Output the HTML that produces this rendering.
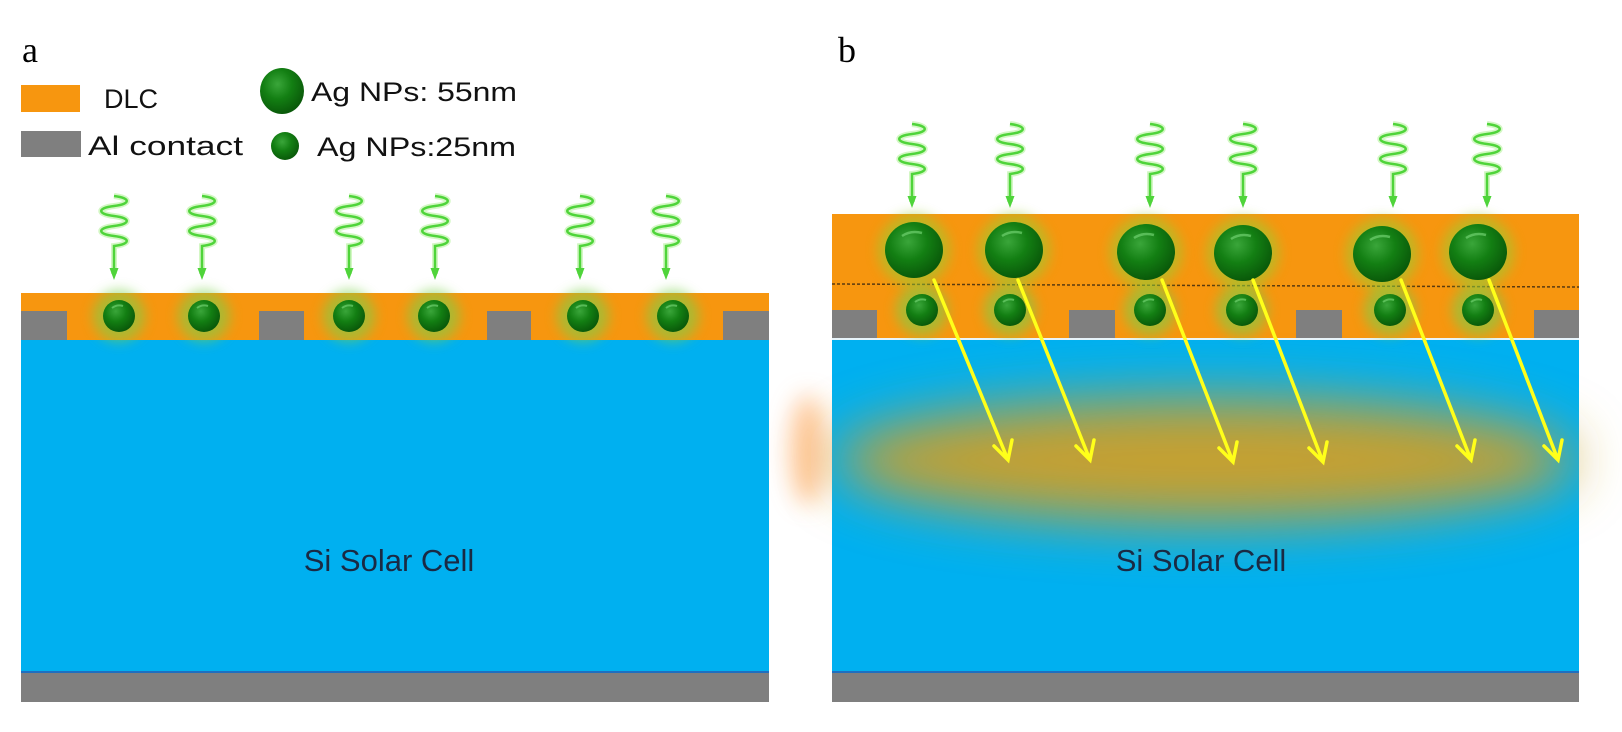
<!DOCTYPE html>
<html><head><meta charset="utf-8"><style>
html,body{margin:0;padding:0;background:#fff}
svg{display:block}
text{font-family:"Liberation Sans",sans-serif}
</style></head><body>
<svg width="1622" height="732" viewBox="0 0 1622 732" xmlns="http://www.w3.org/2000/svg">
<defs>
<radialGradient id="sph" cx="40%" cy="35%" r="65%">
<stop offset="0" stop-color="#3aa63a"/><stop offset="0.5" stop-color="#137f13"/><stop offset="1" stop-color="#0a5a0a"/>
</radialGradient>
<filter id="blur6" x="-1" y="-1" width="3" height="3"><feGaussianBlur stdDeviation="6"/></filter>
<filter id="blur12" x="-1" y="-1" width="3" height="3"><feGaussianBlur stdDeviation="12"/></filter>
<filter id="blur30" x="-1" y="-1" width="3" height="3"><feGaussianBlur stdDeviation="28"/></filter>
<g id="wave">
<path d="M0,0 C17,2 17,8 0,10 C-17,12 -17,18 0,20 C17,22 17,28 0,30 C-17,32 -17,38 0,40 C17,42 17,48 0,50 L0,78" fill="none" stroke="#a8f08a" stroke-width="6" opacity="0.5"/>
<path d="M0,0 C17,2 17,8 0,10 C-17,12 -17,18 0,20 C17,22 17,28 0,30 C-17,32 -17,38 0,40 C17,42 17,48 0,50 L0,78" fill="none" stroke="#4fd43a" stroke-width="2.5"/>
<polygon points="-4.5,72 4.5,72 0,84" fill="#4fd43a"/>
</g>
<g id="ss"><circle r="26" fill="#7ad04a" opacity="0.6" filter="url(#blur6)"/><ellipse rx="16" ry="16" fill="url(#sph)"/><path d="M-7,-8 Q-2,-12 4,-10" stroke="#6fd06f" stroke-width="2" fill="none" opacity="0.7"/></g>
<g id="bs"><circle r="36" fill="#9acd32" opacity="0.6" filter="url(#blur6)"/><ellipse rx="29" ry="28" fill="url(#sph)"/><path d="M-12,-14 Q-3,-20 8,-17" stroke="#6fd06f" stroke-width="2.5" fill="none" opacity="0.7"/></g>
</defs>

<text x="22" y="62" font-size="36" style="font-family:'Liberation Serif',serif">a</text>
<text x="838" y="62" font-size="36" style="font-family:'Liberation Serif',serif">b</text>

<rect x="21" y="85" width="59" height="27" fill="#f7960f"/>
<rect x="21" y="131" width="60" height="26" fill="#7f7f7f"/>
<text x="104" y="108" font-size="27" fill="#111">DLC</text>
<text x="88" y="155" font-size="27" fill="#111" textLength="155" lengthAdjust="spacingAndGlyphs">Al contact</text>
<ellipse cx="282" cy="91" rx="22" ry="23" fill="url(#sph)"/>
<ellipse cx="285" cy="146" rx="14" ry="14" fill="url(#sph)"/>
<text x="311" y="101" font-size="27" fill="#111" textLength="206" lengthAdjust="spacingAndGlyphs">Ag NPs: 55nm</text>
<text x="317" y="156" font-size="27" fill="#111" textLength="199" lengthAdjust="spacingAndGlyphs">Ag NPs:25nm</text>

<!-- Panel a -->
<rect x="21" y="293" width="748" height="47" fill="#f7960f"/>
<g fill="#7f7f7f">
<rect x="21" y="311" width="46" height="29"/><rect x="259" y="311" width="45" height="29"/>
<rect x="487" y="311" width="44" height="29"/><rect x="723" y="311" width="46" height="29"/>
</g>
<rect x="21" y="340" width="748" height="333" fill="#00b0f0"/>
<rect x="21" y="671" width="748" height="2" fill="#1f6fc0"/>
<rect x="21" y="673" width="748" height="29" fill="#7f7f7f"/>
<g>
<use href="#ss" x="119" y="316"/><use href="#ss" x="204" y="316"/><use href="#ss" x="349" y="316"/>
<use href="#ss" x="434" y="316"/><use href="#ss" x="583" y="316"/><use href="#ss" x="673" y="316"/>
</g>
<g>
<use href="#wave" x="114" y="196"/><use href="#wave" x="202" y="196"/><use href="#wave" x="349" y="196"/>
<use href="#wave" x="435" y="196"/><use href="#wave" x="580" y="196"/><use href="#wave" x="666" y="196"/>
</g>
<text x="389" y="571" font-size="31" fill="#1a2a44" text-anchor="middle">Si Solar Cell</text>

<!-- Panel b -->
<ellipse cx="808" cy="450" rx="18" ry="55" fill="#ffb070" opacity="0.7" filter="url(#blur12)"/>
<rect x="832" y="214" width="747" height="126" fill="#f7960f"/>
<line x1="832" y1="284" x2="1579" y2="287" stroke="#5a3a10" stroke-width="1.5" stroke-dasharray="3,2"/>
<g fill="#7f7f7f">
<rect x="832" y="310" width="45" height="29"/><rect x="1069" y="310" width="46" height="29"/>
<rect x="1296" y="310" width="46" height="29"/><rect x="1534" y="310" width="45" height="29"/>
</g>
<rect x="832" y="338" width="747" height="2" fill="#e8f4fa"/>
<rect x="832" y="340" width="747" height="333" fill="#00b0f0"/>
<ellipse cx="1205" cy="460" rx="370" ry="62" fill="#c4a030" opacity="1" filter="url(#blur30)"/>
<rect x="832" y="671" width="747" height="2" fill="#1f6fc0"/>
<rect x="832" y="673" width="747" height="29" fill="#7f7f7f"/>
<g>
<use href="#ss" x="922" y="310"/><use href="#ss" x="1010" y="310"/><use href="#ss" x="1150" y="310"/>
<use href="#ss" x="1242" y="310"/><use href="#ss" x="1390" y="310"/><use href="#ss" x="1478" y="310"/>
</g>
<g>
<use href="#bs" x="914" y="250"/><use href="#bs" x="1014" y="250"/><use href="#bs" x="1146" y="252"/>
<use href="#bs" x="1243" y="253"/><use href="#bs" x="1382" y="254"/><use href="#bs" x="1478" y="252"/>
</g>
<g>
<use href="#wave" x="912" y="124"/><use href="#wave" x="1010" y="124"/><use href="#wave" x="1150" y="124"/>
<use href="#wave" x="1243" y="124"/><use href="#wave" x="1393" y="124"/><use href="#wave" x="1487" y="124"/>
</g>
<g stroke="#ffff1a" stroke-width="3.5" fill="none" stroke-linecap="round">
<path d="M934,280 L1008,460 M994,446 L1008,460 L1012,440"/>
<path d="M1018,280 L1090,460 M1076,446 L1090,460 L1094,440"/>
<path d="M1162,280 L1233,462 M1219,448 L1233,462 L1237,442"/>
<path d="M1253,280 L1323,462 M1309,448 L1323,462 L1327,442"/>
<path d="M1401,280 L1471,460 M1457,446 L1471,460 L1475,440"/>
<path d="M1489,280 L1558,460 M1544,446 L1558,460 L1562,440"/>
</g>
<text x="1201" y="571" font-size="31" fill="#1a2a44" text-anchor="middle">Si Solar Cell</text>
</svg>
</body></html>
